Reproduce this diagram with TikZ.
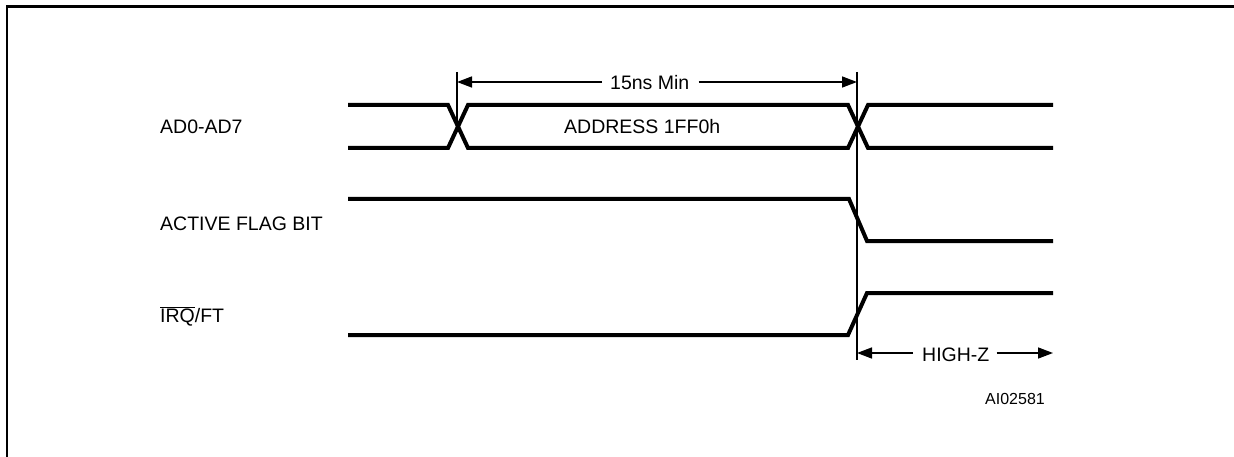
\documentclass[tikz,border=0pt]{standalone}
\usepackage{fontspec}
\setmainfont{Liberation Sans}
\usetikzlibrary{arrows.meta}
\begin{document}
\begin{tikzpicture}[x=1pt,y=-1pt,
  sig/.style={line width=4pt, line join=miter},
  guide/.style={line width=1.5pt},
  dimarrow/.style={line width=1.5pt, -{Triangle[length=15pt,width=11pt]}},
  lbl/.style={anchor=base west, inner sep=0pt, font=\fontsize{19.5}{22}\selectfont},
  smalllbl/.style={anchor=base west, inner sep=0pt, font=\fontsize{16}{18}\selectfont},
  framestyle/.style={line width=2.5pt}]
\useasboundingbox (0,0) rectangle (1234,457);
% frame (open to the right and bottom)
\draw[framestyle] (7,457) -- (7,6.3) -- (1234,6.3);

% labels
\node[lbl] (ad) at (160,134) {AD0-AD7};
\node[lbl] (act) at (160,230.7) {ACTIVE FLAG BIT};
\node[lbl] (irq) at (160,322.7) {$\overline{\hbox{IRQ}}$/FT};
\node[lbl] (addr) at (564,134) {ADDRESS 1FF0h};
\node[lbl] (min) at (610,89.3) {15ns Min};
\node[lbl] (hiz) at (922,361.7) {HIGH-Z};
\node[smalllbl] (ai) at (985,404) {AI02581};

% bus AD0-AD7
\draw[sig] (348,105) -- (448,105) -- (468,148) -- (848,148) -- (868,105) -- (1053,105);
\draw[sig] (348,148) -- (448,148) -- (468,105) -- (848,105) -- (868,148) -- (1053,148);
% ACTIVE FLAG BIT
\draw[sig] (348,199) -- (849,199) -- (867,241) -- (1053,241);
% IRQ/FT
\draw[sig] (348,335) -- (848,335) -- (867,293) -- (1053,293);

% reference lines
\coordinate (t1top) at (457,72);
\coordinate (t1bot) at (457,127);
\coordinate (t2top) at (857,72);
\coordinate (t2bot) at (857,360);
\draw[guide] (t1top) -- (t1bot);
\draw[guide] (t2top) -- (t2bot);

% 15ns Min dimension
\coordinate (d1) at (457,82);
\coordinate (d2) at (857,82);
\draw[dimarrow] ([xshift=-8pt]min.west |- d1) -- (d1);
\draw[dimarrow] ([xshift=9pt]min.east |- d1) -- (d2);

% HIGH-Z dimension
\coordinate (h1) at (857,353);
\coordinate (h2) at (1053,353);
\draw[dimarrow] ([xshift=-9pt]hiz.west |- h1) -- (h1);
\draw[dimarrow] ([xshift=7pt]hiz.east |- h1) -- (h2);
\end{tikzpicture}
\end{document}
